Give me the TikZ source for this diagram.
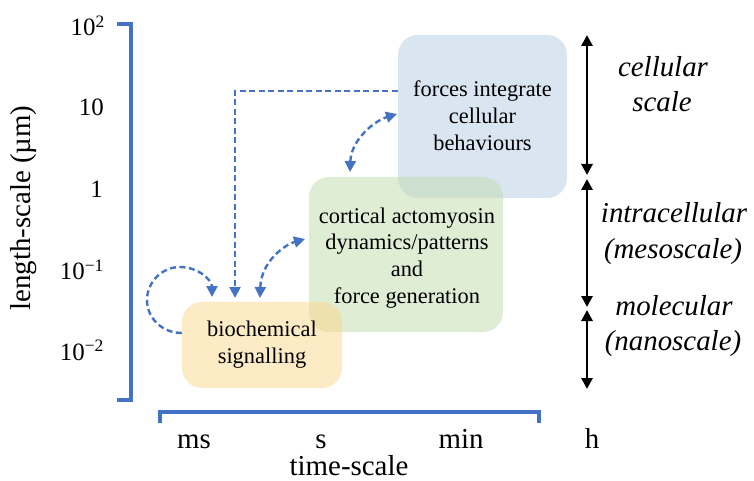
\documentclass[tikz,border=0pt]{standalone}
\usepackage{fontspec}
\setmainfont{LiberationSerif}[Extension=.ttf, UprightFont=*-Regular, ItalicFont=*-Italic, BoldFont=*-Bold, BoldItalicFont=*-BoldItalic]
\usetikzlibrary{arrows.meta}
\definecolor{axisblue}{RGB}{68,114,196}
\definecolor{bluebase}{RGB}{181,203,229}
\definecolor{greenbase}{RGB}{193,219,171}
\definecolor{orangebase}{RGB}{251,215,139}
\begin{document}
\begin{tikzpicture}[x=1bp,y=-1bp,
  box/.style={rounded corners=20bp, inner sep=0pt, draw=none, fill opacity=0.5},
  boxtext/.style={align=center, font=\fontsize{22.5}{27}\selectfont, text=black},
  axislab/.style={font=\fontsize{29}{35}\selectfont, text=black},
  ticklab/.style={font=\fontsize{25}{30}\selectfont, anchor=base east, inner sep=0pt},
  timelab/.style={font=\fontsize{29}{35}\selectfont, anchor=base, inner sep=0pt},
  scalelab/.style={font=\fontsize{29}{35}\selectfont\itshape, anchor=base, inner sep=0pt},
  dasharrow/.style={draw=axisblue, line width=2.4bp, dash pattern=on 6bp off 3.5bp, -{Triangle[length=11bp,width=11bp]}},
  dasharrows/.style={draw=axisblue, line width=2.4bp, dash pattern=on 6bp off 3.5bp, {Triangle[length=11bp,width=11bp]}-{Triangle[length=11bp,width=11bp]}},
  bracket/.style={draw=axisblue, line width=3.2bp},
  scalearrow/.style={draw=black, line width=2.8bp, {Triangle[length=11bp,width=11bp]}-{Triangle[length=11bp,width=11bp]}}
]
\useasboundingbox (0,0) rectangle (754,481);

% boxes
\node[box, fill=bluebase, minimum width=169bp, minimum height=163bp] (forces) at (482.5,116.5) {};
\node[box, fill=greenbase, minimum width=194bp, minimum height=155bp] (cortical) at (406,254.5) {};
\node[box, fill=orangebase, minimum width=160bp, minimum height=86bp] (bio) at (262,345) {};

\node[boxtext] (forcestext) at (482.5,116) {forces integrate\\cellular\\behaviours};
\node[boxtext] (corticaltext) at (407,258) {cortical actomyosin\\dynamics/patterns\\and\\force generation};
\node[boxtext] (biotext) at (262,345) {biochemical\\signalling};

% left axis bracket
\draw[bracket] (117,24) -- (131,24) -- (131,400) -- (117,400);
\node[ticklab] (t2) at (105,36) {10\textsuperscript{2}};
\node[ticklab] (t1) at (104,116) {10};
\node[ticklab] (t0) at (103,198) {1};
\node[ticklab] (tm1) at (104,280) {10\textsuperscript{−1}};
\node[ticklab] (tm2) at (104,360) {10\textsuperscript{−2}};
\node[axislab, rotate=90] (ylab) at (24,208) {length-scale (µm)};

% bottom axis bracket
\draw[bracket] (160,423) -- (160,412) -- (539,412) -- (539,423);
\node[timelab] (ms) at (194,448) {ms};
\node[timelab] (sec) at (321,448) {s};
\node[timelab] (mn) at (461,448) {min};
\node[timelab] (hr) at (592,448) {h};
\node[timelab] (xlab) at (349,475) {time-scale};

% right scale arrows
\coordinate (a1) at (587,35);
\coordinate (a2) at (587,175);
\coordinate (a3) at (587,179);
\coordinate (a4) at (587,307);
\coordinate (a5) at (587,310);
\coordinate (a6) at (587,389);
\draw[scalearrow] (a1) -- (a2);
\draw[scalearrow] (a3) -- (a4);
\draw[scalearrow] (a5) -- (a6);
\node[scalelab] (cell1) at (663,77) {cellular};
\node[scalelab] (cell2) at (662,112) {scale};
\node[scalelab] (intra1) at (674,223) {intracellular};
\node[scalelab] (intra2) at (673,259) {(mesoscale)};
\node[scalelab] (mol1) at (674,315) {molecular};
\node[scalelab] (mol2) at (673,350) {(nanoscale)};

% dashed connectors
\coordinate (loopstart) at ([yshift=12bp]bio.west);
\coordinate (looptip) at (212,297);
\draw[dasharrow] (loopstart) .. controls (162,333) and (147,318) .. (147,300)
   .. controls (147,282) and (162,267) .. (180,267)
   .. controls (198,267) and (212,280) .. (looptip);

\coordinate (elbowstart) at (forces.west |- 0,91);
\coordinate (elbowtip) at (235,298);
\draw[dasharrow] (elbowstart) -- (235,91) -- (elbowtip);

\coordinate (bgA) at (260,298);
\coordinate (bgB) at (305,239);
\draw[dasharrows] (bgA) .. controls (261,262) and (284,245) .. (bgB);

\coordinate (gfA) at (350,172);
\coordinate (gfB) at (397,114);
\draw[dasharrows] (gfA) .. controls (351,140) and (374,121) .. (gfB);
\end{tikzpicture}
\end{document}
